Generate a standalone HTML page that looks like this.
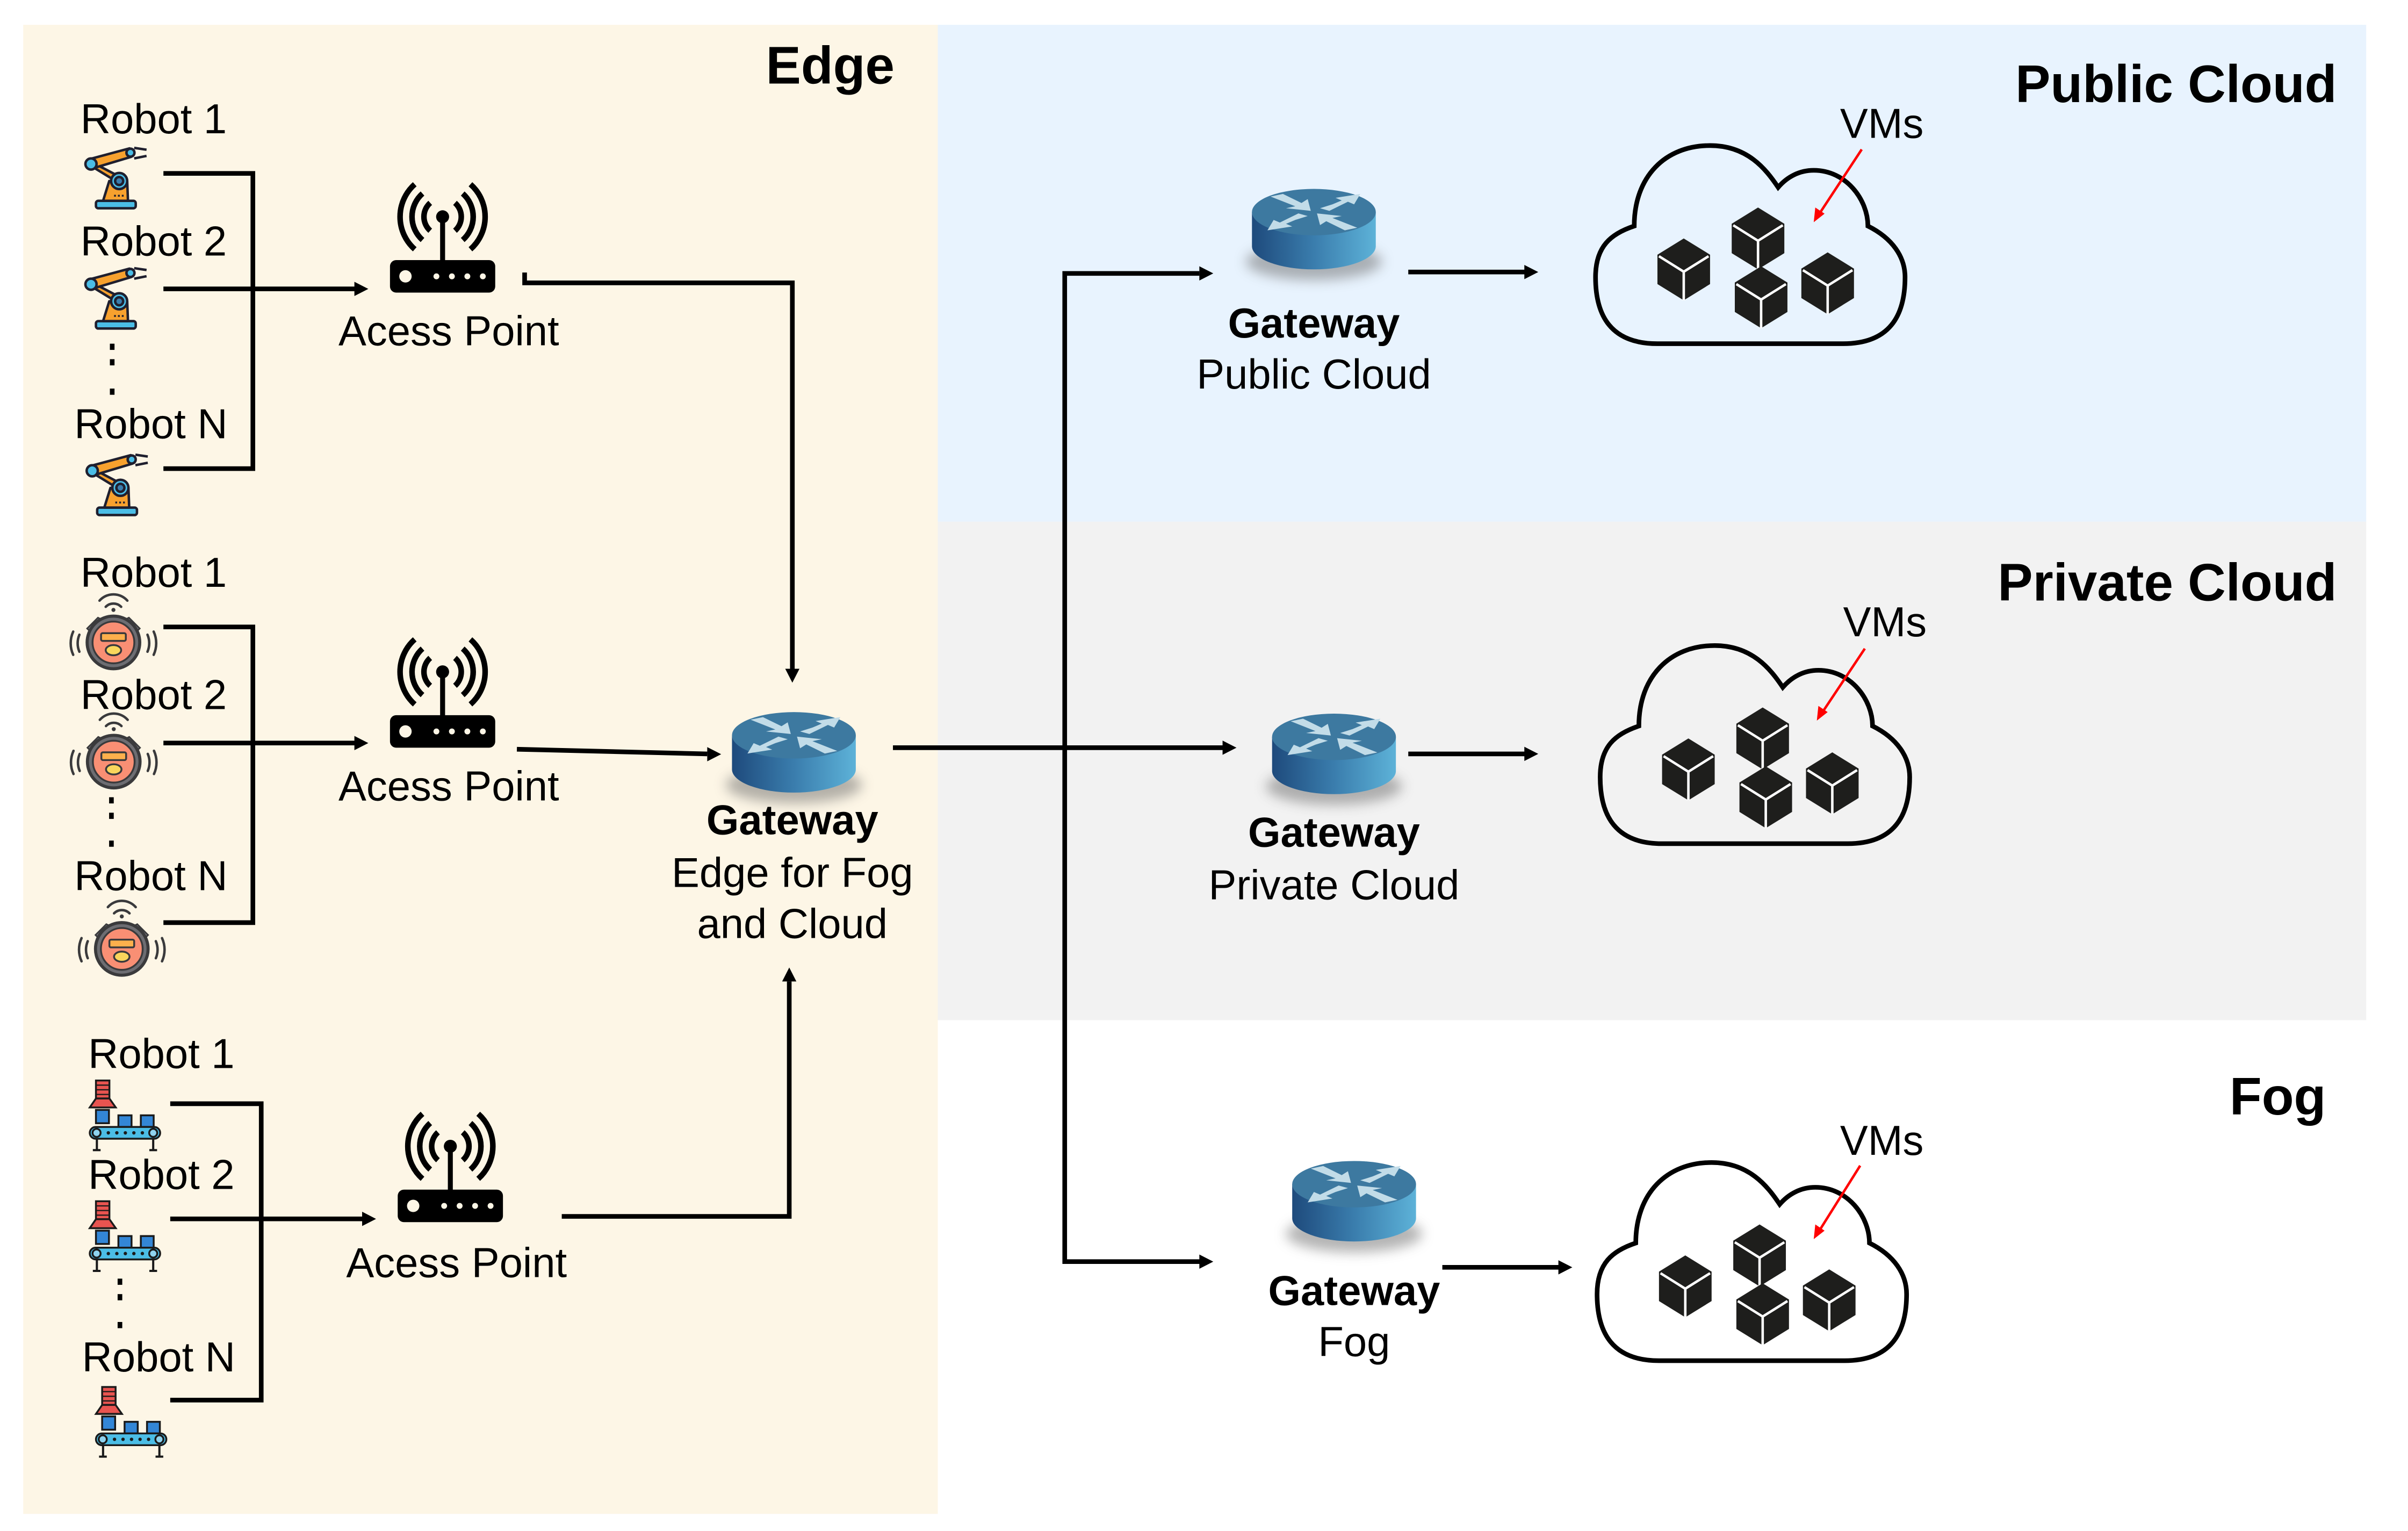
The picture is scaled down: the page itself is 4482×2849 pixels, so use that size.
<!DOCTYPE html>
<html><head><meta charset="utf-8">
<style>html,body{margin:0;padding:0;background:#fff;}svg{display:block;}</style>
</head><body>
<svg xmlns="http://www.w3.org/2000/svg" xmlns:xlink="http://www.w3.org/1999/xlink" width="4482" height="2849" viewBox="0 0 1556 989" font-family="Liberation Sans, Arial, sans-serif">
<defs>
  <linearGradient id="side" x1="0" x2="1" y1="0" y2="0">
    <stop offset="0" stop-color="#1e4a7c"/><stop offset="0.5" stop-color="#3a7dad"/><stop offset="1" stop-color="#5db2d8"/>
  </linearGradient>
  <filter id="blur" x="-50%" y="-50%" width="200%" height="200%"><feGaussianBlur stdDeviation="4"/></filter>
  <g id="router">
    <ellipse cx="0" cy="32" rx="44" ry="12" fill="#6b6b6b" opacity="0.5" filter="url(#blur)"/>
    <path d="M-40,0 L-40,22 A40,15 0 0 0 40,22 L40,0 Z" fill="url(#side)"/>
    <ellipse cx="0" cy="0" rx="40" ry="15" fill="#3d79a0"/>
    <g fill="#c2dce8" transform="scale(1,0.42)">
      <polygon points="-28,-24 -20,-28 -8,-14 -4,-20 -2,-2 -18,-6 -12,-9"/>
      <polygon points="28,24 20,28 8,14 4,20 2,2 18,6 12,9"/>
      <polygon points="4,-6 12,-12 18,-18 14,-22 30,-28 26,-12 22,-16 10,-2"/>
      <polygon points="-4,6 -12,12 -18,18 -14,22 -30,28 -26,12 -22,16 -10,2"/>
    </g>
  </g>
  <g id="ap">
    <rect x="-34" y="28" width="68" height="21" rx="4" fill="#000"/>
    <circle cx="-24" cy="38.5" r="4" fill="#fdf6e6"/>
    <circle cx="-4" cy="38.5" r="1.9" fill="#fdf6e6"/>
    <circle cx="6" cy="38.5" r="1.9" fill="#fdf6e6"/>
    <circle cx="16" cy="38.5" r="1.9" fill="#fdf6e6"/>
    <circle cx="26" cy="38.5" r="1.9" fill="#fdf6e6"/>
    <rect x="-1.6" y="0" width="3.2" height="29" fill="#000"/>
    <circle cx="0" cy="0" r="4.2" fill="#000"/>
    <g fill="none" stroke="#000" stroke-width="3.6">
      <path d="M-8,-9 A12,12 0 0 0 -8,9"/><path d="M8,-9 A12,12 0 0 1 8,9"/>
      <path d="M-13,-15 A20,20 0 0 0 -13,15"/><path d="M13,-15 A20,20 0 0 1 13,15"/>
      <path d="M-18,-21 A28,28 0 0 0 -18,21"/><path d="M18,-21 A28,28 0 0 1 18,21"/>
    </g>
  </g>
  <g id="arm" stroke="#1f1f2e" stroke-width="1.6" stroke-linejoin="round">
    <rect x="20.3" y="39.4" width="25.7" height="4.8" rx="1.5" fill="#4bbde6"/>
    <polygon points="24.9,39.4 28.9,26.6 40.5,26.6 41,39.4" fill="#f7a12e"/>
    <polygon points="15,13 19,18 37,29 34,23" fill="#f7a12e"/>
    <polygon points="16,12.5 18,18.5 43,11 42,5.5" fill="#f7a12e"/>
    <circle cx="35.3" cy="26.6" r="5.2" fill="#4bbde6"/>
    <circle cx="35.3" cy="26.6" r="2.6" fill="#3a7dad"/>
    <circle cx="17.1" cy="15.6" r="3.6" fill="#4bbde6"/>
    <circle cx="42.6" cy="8.3" r="2.6" fill="#4bbde6"/>
    <path d="M45,5.2 L53,6.4 M45,12 L53,10.4" fill="none"/>
    <rect x="32" y="35.5" width="1.2" height="1.2" fill="#1f1f2e" stroke="none"/>
    <rect x="34.5" y="35.5" width="1.2" height="1.2" fill="#1f1f2e" stroke="none"/>
    <rect x="37" y="35.5" width="1.2" height="1.2" fill="#1f1f2e" stroke="none"/>
  </g>
  <g id="vac">
    <g fill="none" stroke="#3a3a3c" stroke-width="1.6" stroke-linecap="round">
      <path d="M-5,-23 A7,7 0 0 1 5,-23"/><path d="M-9,-27 A12,12 0 0 1 9,-27"/>
      <path d="M-22,-5 A14,14 0 0 0 -22,6"/><path d="M-26,-7 A18,18 0 0 0 -26,8"/>
      <path d="M22,-5 A14,14 0 0 1 22,6"/><path d="M26,-7 A18,18 0 0 1 26,8"/>
    </g>
    <circle cx="0" cy="-21" r="1.3" fill="#3a3a3c"/>
    <polygon points="-17,-9 -10,-16 -6,-14 -14,-6" fill="#7b7b80" stroke="#3a3a3c" stroke-width="1"/>
    <polygon points="17,-9 10,-16 6,-14 14,-6" fill="#7b7b80" stroke="#3a3a3c" stroke-width="1"/>
    <circle cx="0" cy="0" r="17" fill="#6d6d72" stroke="#3a3a3c" stroke-width="2"/>
    <circle cx="0" cy="0" r="13.5" fill="#f98f74" stroke="#3a3a3c" stroke-width="1.2"/>
    <rect x="-8" y="-6" width="16" height="5" rx="1" fill="#fdb04c" stroke="#3a3a3c" stroke-width="1.2"/>
    <ellipse cx="0" cy="5" rx="5" ry="3.3" fill="#f9d65c" stroke="#3a3a3c" stroke-width="1.2"/>
  </g>
  <g id="conv" stroke="#1a1a1a" stroke-width="1.2">
    <rect x="4" y="0" width="8.7" height="11.6" fill="#e85450"/>
    <path d="M4,3 H12.7 M4,6 H12.7 M4,9 H12.7" stroke-width="0.8"/>
    <polygon points="4,11.6 12.7,11.6 16.8,17.4 0,17.4" fill="#e85450"/>
    <rect x="4" y="19" width="8.4" height="8.6" fill="#3386d6"/>
    <rect x="18.5" y="22.5" width="8.5" height="7.5" fill="#3386d6"/>
    <rect x="33" y="22.5" width="8.3" height="7.5" fill="#3386d6"/>
    <rect x="0" y="30" width="45.5" height="7.6" rx="3.8" fill="#4bbde6"/>
    <circle cx="4.4" cy="33.8" r="2.6" fill="#8fd3ef"/>
    <circle cx="41" cy="33.8" r="2.6" fill="#8fd3ef"/>
    <g fill="#1a1a1a" stroke="none"><circle cx="12" cy="33.8" r="1.1"/><circle cx="17.5" cy="33.8" r="1.1"/><circle cx="23" cy="33.8" r="1.1"/><circle cx="28.5" cy="33.8" r="1.1"/><circle cx="34" cy="33.8" r="1.1"/></g>
    <path d="M4.6,37.6 V45 M2,45 H7 M41,37.6 V45 M38.5,45 H43.5" stroke-width="1.4"/>
  </g>
  <g id="cube">
    <polygon points="0,-20 17,-9.5 17,9.5 0,20 -17,9.5 -17,-9.5" fill="#1e1e1c"/>
    <path d="M-16,-8.5 L0,1.5 L16,-8.5 M0,1.5 V20" fill="none" stroke="#fff" stroke-width="1.6"/>
  </g>
  <g id="cloud">
    <path d="M40,128 C10,128 0,110 0,85 C0,65 10,57 25,52 C25,20 45,0 74,0 C98,0 110,15 118,27 C124,20 132,16 141,16 C162,16 176,35 176,52 C192,60 200,72 200,85 C200,110 190,128 160,128 Z" fill="none" stroke="#000" stroke-width="3"/>
    <use xlink:href="#cube" x="57" y="80"/>
    <use xlink:href="#cube" x="105" y="60"/>
    <use xlink:href="#cube" x="107" y="98"/>
    <use xlink:href="#cube" x="150" y="89"/>
  </g>
</defs>

<!-- panels -->
<rect x="15" y="16" width="591" height="962" fill="#fdf6e6"/>
<rect x="606" y="16" width="923" height="321" fill="#e8f3fe"/>
<rect x="606" y="337" width="923" height="322" fill="#f2f2f2"/>

<!-- titles -->
<g font-weight="bold" font-size="34" fill="#000" text-anchor="end">
  <text x="578" y="54">Edge</text>
  <text x="1510" y="66">Public Cloud</text>
  <text x="1510" y="388">Private Cloud</text>
  <text x="1503" y="720">Fog</text>
</g>

<!-- group 1 -->
<g font-size="27" fill="#000">
  <text x="52" y="86">Robot 1</text>
  <text x="52" y="165">Robot 2</text>
  <text x="48" y="283">Robot N</text>
  <text x="52" y="379">Robot 1</text>
  <text x="52" y="458">Robot 2</text>
  <text x="48" y="575">Robot N</text>
  <text x="57" y="690">Robot 1</text>
  <text x="57" y="768">Robot 2</text>
  <text x="53" y="886">Robot N</text>
</g>
<use xlink:href="#arm" x="41.7" y="90.3"/>
<use xlink:href="#arm" x="41.7" y="168"/>
<use xlink:href="#arm" x="42.5" y="288.5"/>
<use xlink:href="#vac" x="73.3" y="415"/>
<use xlink:href="#vac" x="73.5" y="492"/>
<use xlink:href="#vac" x="78.7" y="613"/>
<use xlink:href="#conv" x="58" y="698"/>
<use xlink:href="#conv" x="58" y="776"/>
<use xlink:href="#conv" x="62" y="896"/>

<!-- dots -->
<g fill="#000">
  <rect x="71" y="222" width="3" height="4"/><rect x="71" y="232" width="3" height="4"/><rect x="71" y="251" width="3" height="4"/>
  <rect x="70.5" y="515" width="3" height="4"/><rect x="70.5" y="525" width="3" height="4"/><rect x="70.5" y="543" width="3" height="4"/>
  <rect x="76" y="826" width="3" height="4"/><rect x="76" y="836" width="3" height="4"/><rect x="76" y="854" width="3" height="4"/>
</g>

<!-- access points -->
<use xlink:href="#ap" x="286" y="140"/>
<use xlink:href="#ap" x="286" y="434"/>
<use xlink:href="#ap" x="291" y="740.5"/>
<g font-size="27" fill="#000" text-anchor="middle">
  <text x="290" y="223">Acess Point</text>
  <text x="290" y="517">Acess Point</text>
  <text x="295" y="825">Acess Point</text>
</g>

<!-- connectors -->
<g fill="none" stroke="#000" stroke-width="3">
  <path d="M105.6,112 H163.4 V302.7 H105.6"/>
  <path d="M105.6,186.6 H230"/>
  <path d="M105.6,405 H163.4 V596 H105.6"/>
  <path d="M105.6,480 H230"/>
  <path d="M110,713 H168.8 V904.5 H110"/>
  <path d="M110,787.4 H235"/>
  <path d="M339,176 V182.7 H512 V433"/>
  <path d="M334,484 L457,487"/>
  <path d="M363,785.8 H510 V634"/>
  <path d="M577,483 H791"/>
  <path d="M775,176.6 H688 V815 H776"/>
  <path d="M910,175.7 H986"/>
  <path d="M910,487 H986"/>
  <path d="M932,818.7 H1008"/>
</g>
<g fill="#000">
  <polygon points="238,186.6 229,182 229,191.2"/>
  <polygon points="238,480 229,475.4 229,484.6"/>
  <polygon points="243,787.4 234,782.8 234,792"/>
  <polygon points="512,441 507.4,432 516.6,432"/>
  <polygon points="466,487.2 457,482.6 457,491.8"/>
  <polygon points="510,625 505.4,634 514.6,634"/>
  <polygon points="799,483 790,478.4 790,487.6"/>
  <polygon points="784,176.6 775,172 775,181.2"/>
  <polygon points="784,815 775,810.4 775,819.6"/>
  <polygon points="994,175.7 985,171.1 985,180.3"/>
  <polygon points="994,487 985,482.4 985,491.6"/>
  <polygon points="1016,818.7 1007,814.1 1007,823.3"/>
</g>

<!-- routers -->
<use xlink:href="#router" x="513" y="475"/>
<use xlink:href="#router" x="849" y="137"/>
<use xlink:href="#router" x="862" y="476"/>
<use xlink:href="#router" x="875" y="765"/>
<g font-size="27" fill="#000" text-anchor="middle">
  <text x="512" y="539" font-weight="bold">Gateway</text>
  <text x="512" y="573">Edge for Fog</text>
  <text x="512" y="606">and Cloud</text>
  <text x="849" y="218" font-weight="bold">Gateway</text>
  <text x="849" y="251">Public Cloud</text>
  <text x="862" y="547" font-weight="bold">Gateway</text>
  <text x="862" y="581">Private Cloud</text>
  <text x="875" y="843" font-weight="bold">Gateway</text>
  <text x="875" y="876">Fog</text>
</g>

<!-- clouds -->
<use xlink:href="#cloud" x="1031" y="94"/>
<use xlink:href="#cloud" x="1034" y="417"/>
<use xlink:href="#cloud" x="1032" y="751"/>
<g font-size="27" fill="#000">
  <text x="1189" y="89">VMs</text>
  <text x="1191" y="411">VMs</text>
  <text x="1189" y="746">VMs</text>
</g>
<g stroke="#ff0000" stroke-width="1.6" fill="none">
  <path d="M1203,96.5 L1175,139"/>
  <path d="M1205,419 L1177,461"/>
  <path d="M1202,753 L1175,796"/>
</g>
<g fill="#ff0000">
  <polygon points="1172,143.5 1173,134 1179,138"/>
  <polygon points="1174,465.5 1175,456 1181,460"/>
  <polygon points="1172,800.5 1173,791 1179,795"/>
</g>
</svg>
</body></html>
